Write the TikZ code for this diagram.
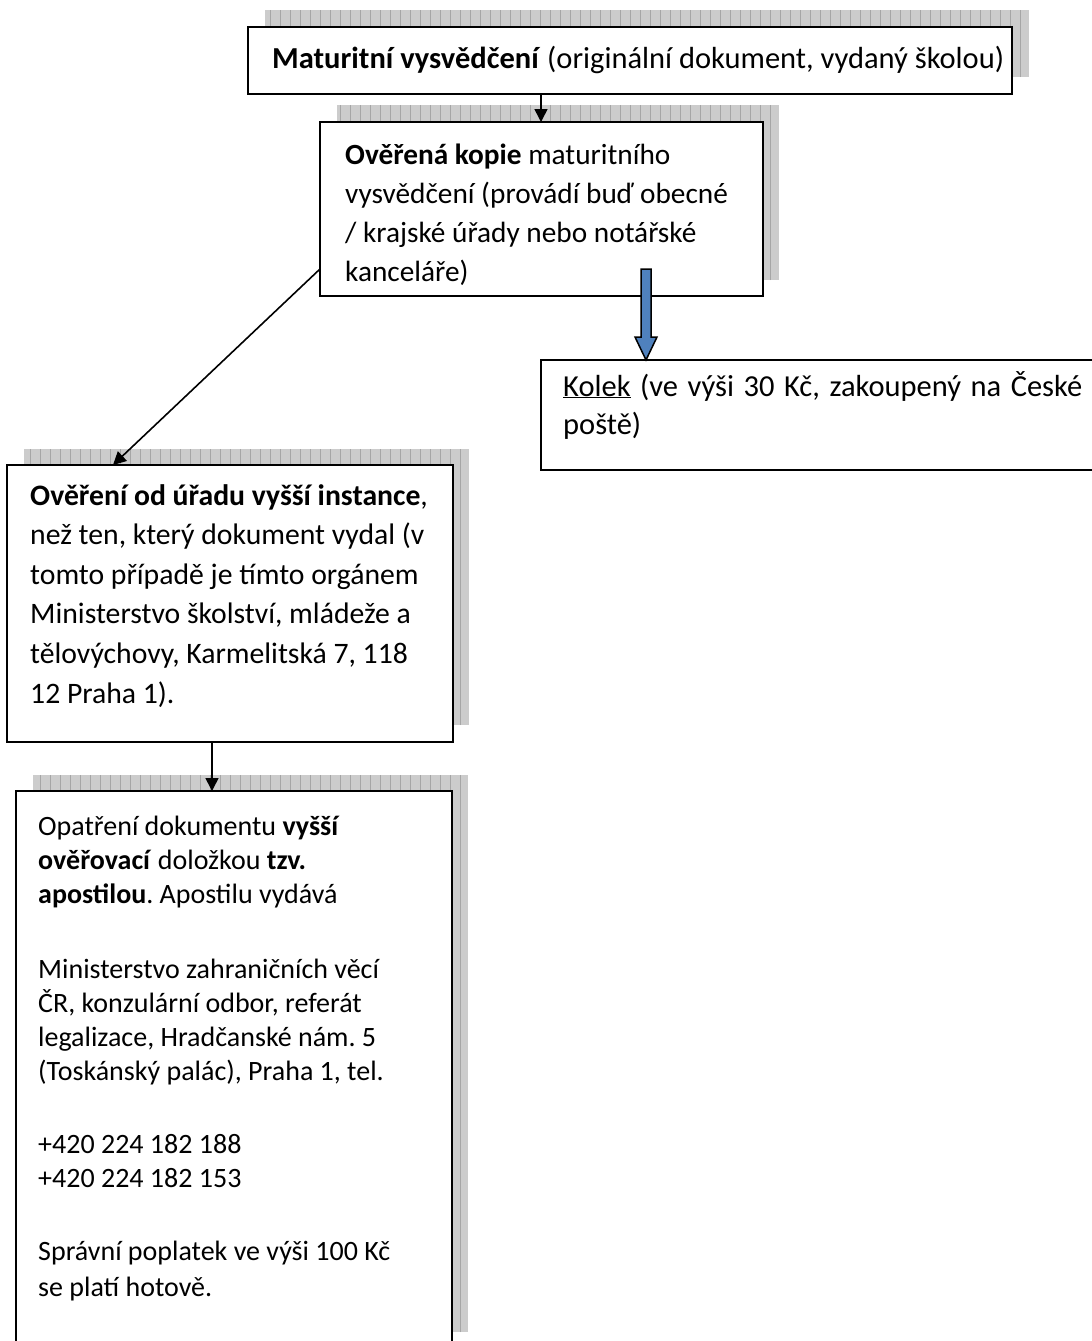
\documentclass[tikz,border=0pt]{standalone}
\usepackage{fontspec}
\setmainfont{Carlito}
\usetikzlibrary{arrows.meta}
\definecolor{arrowblue}{HTML}{4F81BD}
\frenchspacing
\tikzset{
  boxnode/.style={draw=black, fill=white, line width=2.5pt, inner sep=0pt, outer sep=0pt, anchor=north west},
  shadowfill/.style={fill=gray!40},
  shadowgrid/.style={draw=gray!70, line width=0.7pt},
  arr/.style={line width=1.6pt, -{Triangle[width=13pt,length=13pt]}},
  txt/.style={inner sep=0pt, anchor=base west, font=\fontsize{28}{34}\selectfont},
}
\newcommand\shadowrect[4]{%
  \fill[shadowfill] (#1,#2) rectangle (#3,#4);
  \begin{scope}
    \clip (#1,#2) rectangle (#3,#4);
    \draw[shadowgrid] (#1,#2) grid[step=10] (#3,#4);
  \end{scope}}
\begin{document}
\frenchspacing
\begin{tikzpicture}[x=1pt,y=-1pt]
\useasboundingbox (0,0) rectangle (1092,1341);
\clip (0,0) rectangle (1092,1341);
\fill[white] (0,0) rectangle (1092,1341);
% shadows
\shadowrect{265}{10}{1029}{77}
\shadowrect{337}{105}{779}{280}
\shadowrect{24}{449}{469}{725}
\shadowrect{33}{775}{468}{1332}
% boxes
\node[boxnode, minimum width=764pt, minimum height=67pt] (b1) at (248,27) {};
\node[boxnode, minimum width=443pt, minimum height=174pt] (b2) at (320,122) {};
\node[boxnode, minimum width=446pt, minimum height=277pt] (b3) at (7,465) {};
\node[boxnode, minimum width=436pt, minimum height=560pt] (b4) at (16,791) {};
\node[boxnode, minimum width=570pt, minimum height=110pt] (k) at (541,360) {};
% texts
\node[txt, font=\fontsize{30.5}{36}\selectfont] (t1) at (272,68) {\textbf{Maturitní vysvědčení} (originální dokument, vydaný školou)};
\begin{scope}
\clip (b2.north west) rectangle (b2.south east);
\node[txt] (t2) at (345,164) {\parbox[t]{430pt}{\fontsize{29.3}{39}\selectfont\raggedright
\textbf{Ověřená kopie} maturitního\\
vysvědčení (provádí buď obecné\\
/ krajské úřady nebo notářské\\
kanceláře)}};
\end{scope}
\node[txt] (t3) at (30,505) {\parbox[t]{430pt}{\fontsize{29.7}{39.6}\selectfont\raggedright
\textbf{Ověření od úřadu vyšší instance},\\
než ten, který dokument vydal (v\\
tomto případě je tímto orgánem\\
Ministerstvo školství, mládeže a\\
tělovýchovy, Karmelitská 7, 118\\
12 Praha 1).}};
\node[txt] (t4) at (38,835) {\parbox[t]{420pt}{\fontsize{28}{34}\selectfont\raggedright
Opatření dokumentu \textbf{vyšší}\\
\textbf{ověřovací} doložkou \textbf{tzv.}\\
\textbf{apostilou}. Apostilu vydává\\[41pt]
Ministerstvo zahraničních věcí\\
ČR, konzulární odbor, referát\\
legalizace, Hradčanské nám. 5\\
(Toskánský palác), Praha 1, tel.\\[39pt]
+420 224 182 188\\
+420 224 182 153\\[39pt]
Správní poplatek ve výši 100 Kč\\[2pt]
se platí hotově.}};
\node[txt] (t5) at (563,396) {\parbox[t]{530pt}{\fontsize{30.5}{38}\selectfont\raggedright
\makebox[519pt][s]{\underline{Kolek} (ve výši 30 Kč, zakoupený na České}\\
poště)}};
% connectors
\coordinate (x1) at (541,0);
\coordinate (y2) at (0,269);
\coordinate (x3) at (113,0);
\coordinate (x4) at (212,0);
\coordinate (x5) at (646,0);
\draw[arr] (x1 |- b1.south) -- (x1 |- b2.north);
\draw[arr] (b2.west |- y2) -- (x3 |- b3.north);
\draw[arr] (x4 |- b3.south) -- (x4 |- b4.north);
\draw[fill=arrowblue, line width=1.5pt, line join=miter]
  ([xshift=-5pt]x5 |- y2) -- ([xshift=5pt]x5 |- y2) -- ([xshift=5pt,yshift=23pt]x5 |- k.north)
  -- ([xshift=11pt,yshift=23pt]x5 |- k.north) -- (x5 |- k.north) -- ([xshift=-11pt,yshift=23pt]x5 |- k.north)
  -- ([xshift=-5pt,yshift=23pt]x5 |- k.north) -- cycle;
\end{tikzpicture}
\end{document}
